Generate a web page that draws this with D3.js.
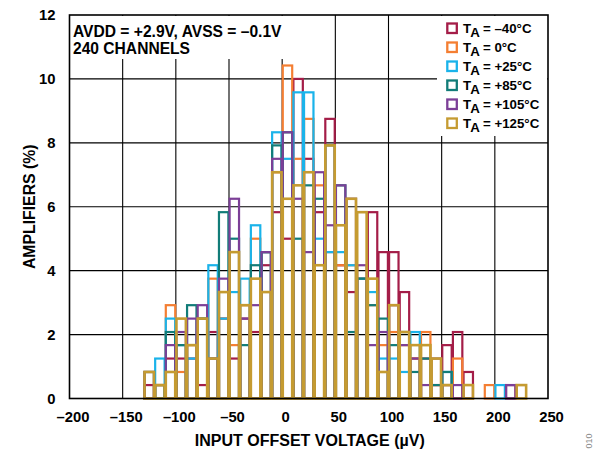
<!DOCTYPE html>
<html>
<head>
<meta charset="utf-8">
<script src="https://cdn.jsdelivr.net/npm/d3@7"></script>
<style>
  body { margin: 0; background: #fff; }
  svg { display: block; font-family: "Liberation Sans", Arial, Helvetica, sans-serif; font-weight: bold; }
</style>
</head>
<body>
<svg id="chart" width="596" height="451"></svg>
<script>
// Histogram bins: left edge of each 10 µV bin
const binStarts = [-130, -120, -110, -100, -90, -80, -70, -60, -50, -40, -30, -20, -10,
                   0, 10, 20, 30, 40, 50, 60, 70, 80, 90, 100, 110, 120, 130, 140, 150,
                   160, 170, 180, 190, 200, 210, 220];
const binWidth = 10;

// Percentage of amplifiers per bin, one array per temperature
const tMinus40 = [0.42, 0.42, 1.25, 1.25, 1.25, 0.42, 2.08, 2.5, 1.25, 2.5, 2.08, 4.17, 5.83,
                  5, 10, 7.5, 5.83, 8.75, 4.17, 3.33, 3.75, 5.83, 4.58, 4.58, 3.33, 1.25, 1.25, 0.42, 1.67,
                  2.08, 0.83, 0, 0, 0, 0.42, 0];
const t0       = [0, 0.42, 2.92, 0.83, 1.67, 2.5, 3.75, 2.5, 1.67, 2.92, 5, 4.58, 7.08,
                  10.42, 7.5, 8.75, 6.67, 4.58, 4.17, 4.17, 3.75, 2.92, 1.67, 2.08, 1.67, 1.25, 2.08, 0.42, 0.42,
                  1.25, 0, 0, 0.42, 0, 0, 0];
const t25      = [0, 1.25, 2.5, 1.67, 1.25, 2.5, 4.17, 2.5, 3.33, 3.75, 5.42, 4.58, 8.33,
                  7.5, 9.58, 9.58, 5, 4.58, 4.58, 4.17, 3.75, 3.33, 1.25, 1.25, 0.83, 2.08, 0, 0, 0.83,
                  0, 0, 0, 0, 0.42, 0, 0];
const t85      = [0.83, 0.42, 2.08, 1.67, 2.92, 2.5, 1.25, 5.83, 5, 1.67, 4.17, 4.58, 7.92,
                  8.33, 5, 6.67, 6.25, 7.92, 6.67, 2.08, 3.75, 2.92, 2.5, 1.67, 2.08, 0.83, 1.25, 0.42, 0.83,
                  0, 0, 0, 0, 0, 0, 0];
const t105     = [0.83, 0, 1.67, 2.08, 2.5, 2.92, 1.25, 3.75, 6.25, 2.5, 2.92, 4.58, 7.5,
                  8.33, 6.25, 4.58, 7.08, 5.42, 6.67, 6.25, 4.17, 1.67, 2.08, 2.92, 1.67, 1.25, 0.42, 1.25, 0.42,
                  0.42, 0, 0, 0, 0, 0.42, 0];
const t125     = [0.83, 0.42, 0.83, 2.5, 1.67, 2.5, 1.25, 3.33, 4.58, 2.92, 3.75, 3.33, 7.08,
                  6.25, 6.67, 7.08, 4.17, 7.92, 5.42, 6.25, 5.83, 3.75, 0.83, 2.92, 2.08, 1.67, 1.67, 1.25, 0.42,
                  0, 0.42, 0, 0, 0, 0, 0.42];

const temperatures = ["–40°C", "0°C", "+25°C", "+85°C", "+105°C", "+125°C"];
const colors = ["#A41D48", "#F47E32", "#1AB3EA", "#117C78", "#7C3F97", "#C59B31"];
const seriesValues = [tMinus40, t0, t25, t85, t105, t125];

const xTicks = [-200, -150, -100, -50, 0, 50, 100, 150, 200, 250];
const yTicks = [0, 2, 4, 6, 8, 10, 12];

const svg = d3.select("#chart");
const x = d3.scaleLinear().domain([-200, 250]).range([69.5, 548]);
const y = d3.scaleLinear().domain([0, 12]).range([398.5, 15]);
const fmt = d => (d < 0 ? "–" + Math.abs(d) : String(d));

svg.append("rect").attr("width", 596).attr("height", 451).attr("fill", "#fff");

// grid
const grid = svg.append("g").attr("stroke", "#000").attr("stroke-width", 1.1);
grid.selectAll("line.v").data(xTicks.slice(1, -1)).join("line")
  .attr("x1", d => x(d)).attr("x2", d => x(d))
  .attr("y1", y(0)).attr("y2", y(12));
grid.selectAll("line.h").data(yTicks.slice(1, -1)).join("line")
  .attr("x1", x(-200)).attr("x2", x(250))
  .attr("y1", d => y(d)).attr("y2", d => y(d));

// white panels behind the annotation and the legend
svg.append("rect").attr("x", x(-200) + 1).attr("y", y(12) + 1)
  .attr("width", 232).attr("height", 43).attr("fill", "#fff");
svg.append("rect").attr("x", 437).attr("y", y(12) + 1)
  .attr("width", x(250) - 437 - 1).attr("height", 120).attr("fill", "#fff");

// outlined histogram bars, later temperatures on top
const inset = 0.6;
seriesValues.forEach((vals, si) => {
  const data = binStarts.map((b, i) => ({ b, v: vals[i] })).filter(d => d.v > 0);
  svg.append("g")
    .attr("fill", "none")
    .attr("stroke", colors[si])
    .attr("stroke-width", si === 5 ? 2.6 : 2.2)
    .selectAll("rect").data(data).join("rect")
    .attr("x", d => x(d.b) + inset)
    .attr("width", d => x(d.b + binWidth) - x(d.b) - 2 * inset)
    .attr("y", d => y(d.v))
    .attr("height", d => y(0) - y(d.v));
});

// plot frame
svg.append("rect")
  .attr("x", x(-200)).attr("y", y(12))
  .attr("width", x(250) - x(-200)).attr("height", y(0) - y(12))
  .attr("fill", "none").attr("stroke", "#000").attr("stroke-width", 1.6);

// axes (labels only)
const xAxis = svg.append("g").attr("transform", `translate(3,${y(0)})`)
  .call(d3.axisBottom(x).tickValues(xTicks).tickSize(0).tickPadding(13).tickFormat(fmt));
const yAxis = svg.append("g").attr("transform", `translate(${x(-200) - 14},0)`)
  .call(d3.axisLeft(y).tickValues(yTicks).tickSize(0).tickPadding(0).tickFormat(fmt));
[xAxis, yAxis].forEach(a => {
  a.select(".domain").remove();
  a.selectAll("text").attr("fill", "#000").style("font-size", "14.8px")
    .style("font-family", "'Liberation Sans', Arial, sans-serif").style("font-weight", "bold");
});

// axis titles
svg.append("text").attr("x", (x(-200) + x(250)) / 2 + 1).attr("y", 446)
  .attr("text-anchor", "middle").style("font-size", "16px")
  .text("INPUT OFFSET VOLTAGE (µV)");
svg.append("text").attr("transform", `translate(35,${(y(0) + y(12)) / 2}) rotate(-90)`)
  .attr("text-anchor", "middle").style("font-size", "15.8px")
  .text("AMPLIFIERS (%)");

// conditions, one text per line
svg.append("text").attr("x", 73).attr("y", 36.5).style("font-size", "15.6px")
  .text("AVDD = +2.9V, AVSS = –0.1V");
svg.append("text").attr("x", 73).attr("y", 53.5).style("font-size", "15.6px")
  .text("240 CHANNELS");

// legend
const legend = svg.append("g");
temperatures.forEach((t, i) => {
  const cy = 28.5 + i * 19;
  legend.append("rect").attr("x", 447.3).attr("y", cy - 5).attr("width", 9.5).attr("height", 9.5)
    .attr("fill", "none").attr("stroke", colors[i]).attr("stroke-width", 2.3);
  const tx = legend.append("text").attr("x", 463).attr("y", cy + 4).style("font-size", "13.3px");
  tx.append("tspan").text("T");
  tx.append("tspan").attr("dy", 4.5).text("A");
  tx.append("tspan").attr("dy", -4.5).text(" = " + t);
});

// figure number
svg.append("text").attr("transform", "translate(592,441) rotate(-90)")
  .attr("text-anchor", "middle").attr("fill", "#8a8a8a")
  .style("font-size", "9px").style("font-weight", "normal").text("010");
</script>
</body>
</html>
